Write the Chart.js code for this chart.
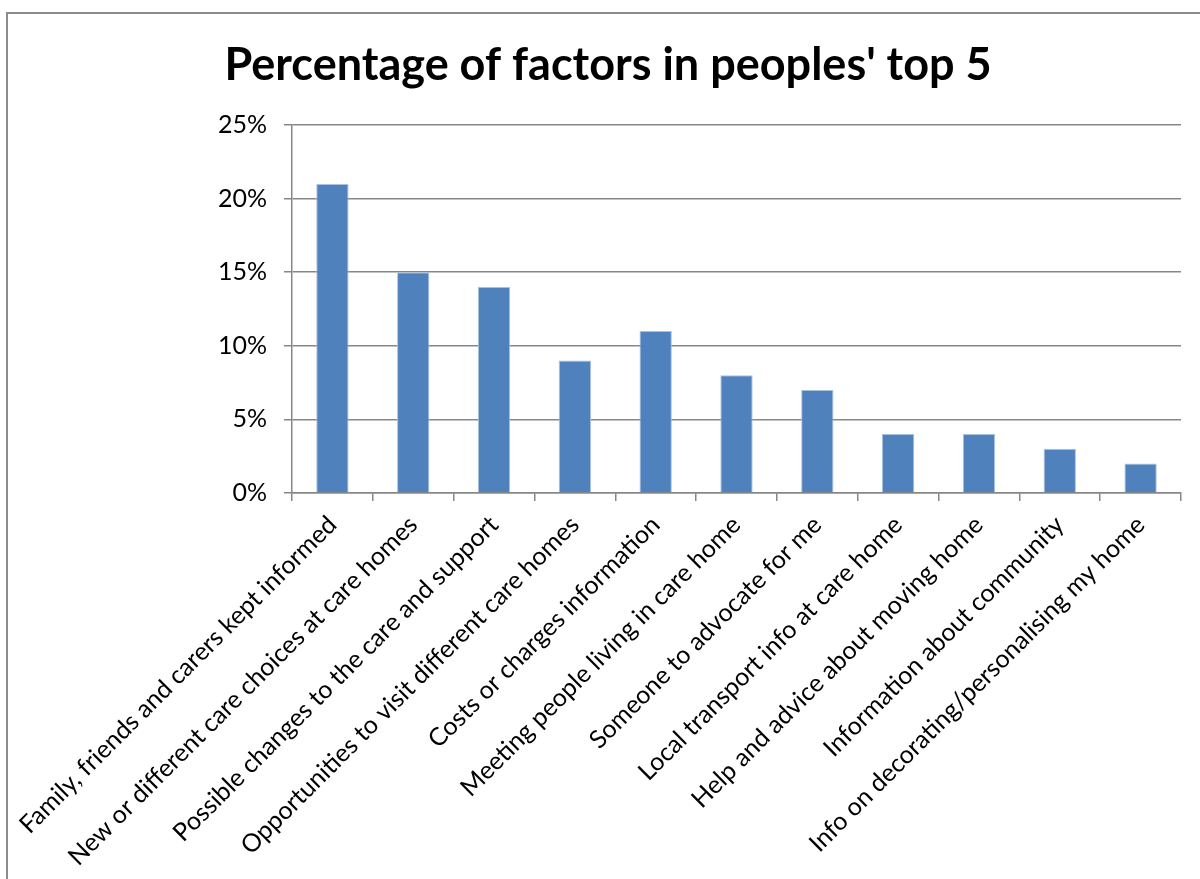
<!DOCTYPE html>
<html>
<head>
<meta charset="utf-8">
<title>Percentage of factors in peoples' top 5</title>
<script src="https://cdn.jsdelivr.net/npm/chart.js@4.4.1/dist/chart.umd.min.js"></script>
<style>
  html, body { margin: 0; padding: 0; background: #fff; }
  #wrap { width: 1200px; height: 879px; position: relative; }
</style>
</head>
<body>
<div id="wrap"><canvas id="factorsChart" width="1200" height="879"></canvas></div>
<script>
// chart data
const chartTitle = "Percentage of factors in peoples' top 5";
const categories = [
  "Family, friends and carers kept informed",
  "New or different care choices at care homes",
  "Possible changes to the care and support",
  "Opportunities to visit different care homes",
  "Costs or charges information",
  "Meeting people living in care home",
  "Someone to advocate for me",
  "Local transport info at care home",
  "Help and advice about moving home",
  "Information about community",
  "Info on decorating/personalising my home",
];
const percentages = [21, 15, 14, 9, 11, 8, 7, 4, 4, 3, 2];
const yTickValues = [0, 5, 10, 15, 20, 25];

const axisGrey = "#878787";
const fontName = "Lato, 'Open Sans', sans-serif";

// outer frame like the pasted excel chart
const framePlugin = {
  id: "frame",
  beforeDraw(chart) {
    const ctx = chart.ctx;
    ctx.save();
    ctx.fillStyle = "#fff";
    ctx.fillRect(0, 0, chart.width, chart.height);
    ctx.strokeStyle = "#8c8c8c";
    ctx.lineWidth = 2;
    ctx.strokeRect(7, 13, chart.width + 20, chart.height + 20);
    ctx.restore();
  },
};

const ctx = document.getElementById("factorsChart");
const factorsChart = new Chart(ctx, {
  type: "bar",
  data: {
    labels: categories,
    datasets: [
      {
        label: "Percentage",
        data: percentages,
        backgroundColor: "#4f81bd",
        borderColor: "#a9c1e0",
        borderWidth: { top: 1, left: 1, right: 1, bottom: 0 },
        barPercentage: 0.4,
        categoryPercentage: 1,
      },
    ],
  },
  options: {
    responsive: false,
    animation: false,
    layout: {
      // left/right padding also set where the title is centred
      padding: { top: 0, left: 35, right: 19, bottom: 0 },
    },
    plugins: {
      legend: { display: false },
      tooltip: { enabled: false },
      title: {
        display: true,
        text: chartTitle,
        color: "#000",
        font: { family: fontName, size: 45, weight: "bold", lineHeight: 1.2 },
        padding: { top: 38, bottom: 33 },
      },
    },
    scales: {
      x: {
        offset: true,
        grid: {
          offset: true,
          drawOnChartArea: false,
          drawTicks: true,
          tickLength: 8,
          color: axisGrey,
          lineWidth: 1.5,
        },
        border: { color: axisGrey, width: 1.5 },
        ticks: {
          autoSkip: false,
          minRotation: 45,
          maxRotation: 45,
          padding: 9,
          color: "#000",
          font: { family: fontName, size: 25 },
        },
        afterFit(scale) {
          scale.height = 386;
          scale.paddingLeft = 0;
          scale.paddingRight = 0;
        },
      },
      y: {
        min: 0,
        max: 25,
        afterBuildTicks(scale) {
          scale.ticks = yTickValues.map((v) => ({ value: v }));
        },
        grid: {
          color: axisGrey,
          lineWidth: 1.5,
          drawTicks: true,
          tickLength: 8,
        },
        border: { color: axisGrey, width: 1.5 },
        ticks: {
          padding: 17,
          color: "#000",
          font: { family: fontName, size: 25 },
          callback: (value) => value + "%",
        },
        afterFit(scale) {
          scale.width = 257;
        },
      },
    },
  },
  plugins: [framePlugin],
});
console.log(factorsChart.chartArea);
</script>
</body>
</html>
